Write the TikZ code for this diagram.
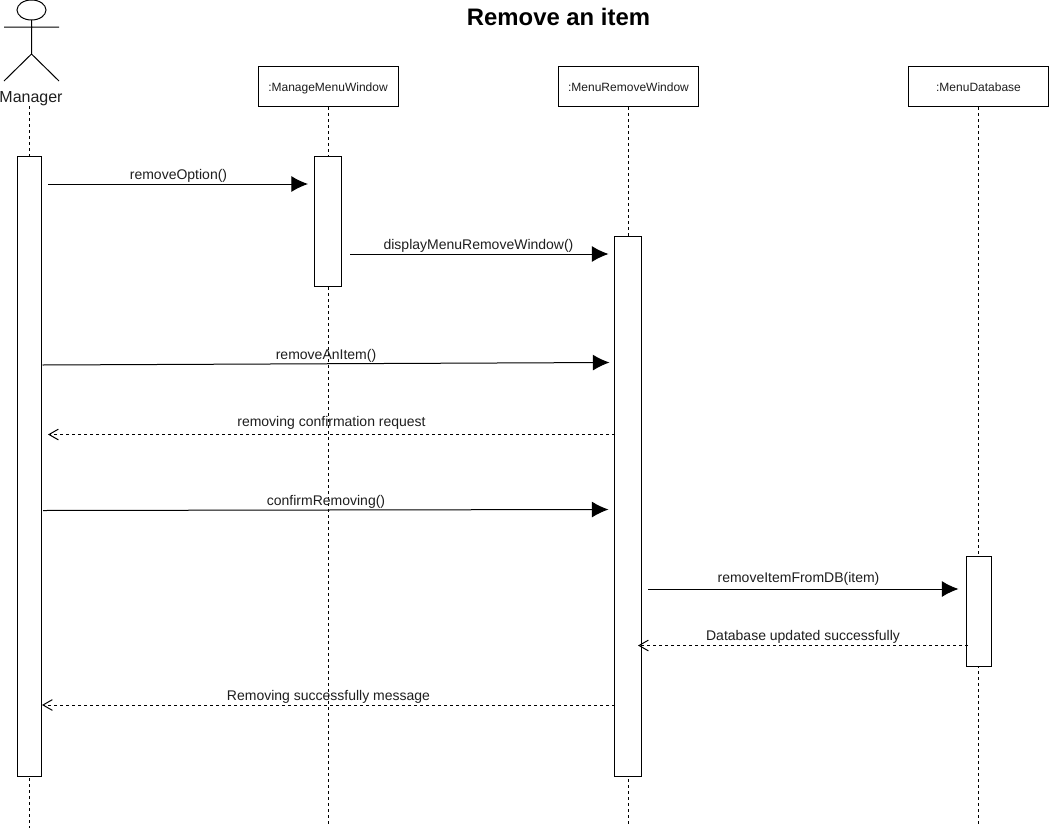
\documentclass[tikz,border=0pt]{standalone}
\usepackage{fontspec}
\setmainfont{Liberation Sans}
\usetikzlibrary{arrows.meta}
\newcommand{\fsz}[1]{\fontsize{#1}{#1}\selectfont}
\definecolor{txt}{HTML}{1E1E1E}
\tikzset{
 x=0.75pt,y=-0.75pt,
 obj/.style={draw=black,fill=white,line width=0.75pt,minimum width=105pt,minimum height=30pt,inner sep=0pt,text=txt,font=\fsz{9},text height=6.8pt,text depth=0pt},
 life/.style={draw=black,dash pattern=on 2.25pt off 2.25pt,line width=0.75pt},
 act/.style={draw=black,fill=white,line width=0.75pt},
 msg/.style={draw=black,line width=0.75pt,-{Latex[length=12.5pt,width=12pt]}},
 ret/.style={draw=black,line width=0.75pt,dash pattern=on 2.25pt off 2.25pt,-{Straight Barb[length=7pt,width=8pt]}},
 lbl/.style={font=\fsz{10.5},text=txt,inner sep=0pt,anchor=base}
}
\begin{document}
\begin{tikzpicture}
\useasboundingbox (0,0) rectangle (1049,828);
\coordinate (mTop) at (29,106); \coordinate (mBot) at (29,828);
\draw[life] (mTop) -- (mBot);
\node[obj] (w1) at (328,86.5) {:ManageMenuWindow};
\node[obj] (w2) at (628.5,86.5) {:MenuRemoveWindow};
\node[obj] (w3) at (978.5,86.5) {:MenuDatabase};
\coordinate (e1) at (328,824); \coordinate (e2) at (628.5,824); \coordinate (e3) at (978.5,824);
\draw[life] (w1) -- (e1); \draw[life] (w2) -- (e2); \draw[life] (w3) -- (e3);
% actor
\draw[line width=0.75pt] (31.5,10) ellipse [x radius=14.5, y radius=10];
\draw[line width=0.75pt] (31.5,20) -- (31.5,54) (4,27) -- (59,27) (31.5,54) -- (4,81) (31.5,54) -- (59,81);
\node[font=\fsz{12},text=txt,inner sep=0pt,anchor=base] (mgr) at (31,102) {Manager};
% activations
\node[act,minimum width=18pt,minimum height=465pt,inner sep=0pt] (a0) at (29.5,466) {};
\node[act,minimum width=20.25pt,minimum height=97.5pt,inner sep=0pt] (a1) at (328.3,221) {};
\node[act,minimum width=20.25pt,minimum height=405pt,inner sep=0pt] (a2) at (628.3,506) {};
\node[act,minimum width=18.75pt,minimum height=82.5pt,inner sep=0pt] (a3) at (978.5,611) {};
% messages
\coordinate (s1) at (48,184); \coordinate (t1) at (308,184);
\draw[msg] (s1) -- (t1);
\node[lbl] at (178.5,179) {removeOption()};
\coordinate (s2) at (350,254); \coordinate (t2) at (608.5,254);
\draw[msg] (s2) -- (t2);
\node[lbl] at (478.5,249.5) {displayMenuRemoveWindow()};
\coordinate (s3) at (42.5,365); \coordinate (t3) at (609.5,362.5);
\draw[msg] (s3) -- (t3);
\node[lbl] at (326,359.5) {removeAnItem()};
\coordinate (s4) at (615,434.5); \coordinate (t4) at (48,434.5);
\draw[ret] (s4) -- (t4);
\node[lbl] at (331.5,426) {removing confirmation request};
\coordinate (s5) at (43,510.5); \coordinate (t5) at (608.5,509.5);
\draw[msg] (s5) -- (t5);
\node[lbl] at (326,505) {confirmRemoving()};
\coordinate (s6) at (648,589); \coordinate (t6) at (958.5,589);
\draw[msg] (s6) -- (t6);
\node[lbl] at (798.5,582.5) {removeItemFromDB(item)};
\coordinate (s7) at (968,645.5); \coordinate (t7) at (638,645.5);
\draw[ret] (s7) -- (t7);
\node[lbl] at (803,640) {Database updated successfully};
\coordinate (s8) at (615,705); \coordinate (t8) at (42,705);
\draw[ret] (s8) -- (t8);
\node[lbl] at (328.5,700) {Removing successfully message};
\node[font=\bfseries\fsz{17.9},inner sep=0pt,anchor=base] (title) at (558.5,25) {Remove an item};
\end{tikzpicture}
\end{document}
